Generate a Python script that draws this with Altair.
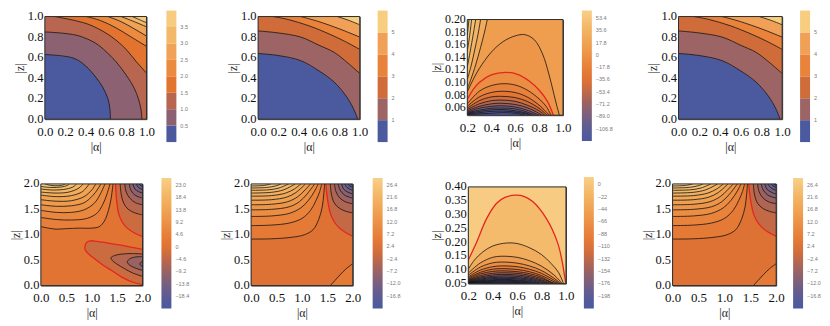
import altair as alt
import pandas as pd

# ---------------- colour gradient (bottom -> top of each bar legend) ----------------
GRAD_T = [0, 0.1, 0.19, 0.29, 0.38, 0.47, 0.57, 0.66, 0.76, 0.86, 1.0]
GRAD_C = ['#4a5aa0', '#5a5c94', '#786080', '#9a6262', '#c06848', '#e07232',
          '#e8803a', '#ec9246', '#f0a454', '#f3b564', '#f8d088']

# ---------------- panel 1 (|a| 0..1, |z| 0..1), discrete bands ----------------
P1_THR = [0.5, 1.0, 1.5, 2.0, 2.5, 3.0, 3.5]
P1_COL = ['#4b5a9f', '#8c6172', '#b8664f', '#e2742f', '#eb8b40', '#f0a256', '#f4b86a', '#f7cc80']
A1 = [(0, 0.63), (0.28, 0.595), (0.4, 0.52), (0.5, 0.41), (0.57, 0.31), (0.62, 0.2), (0.64, 0.1), (0.645, 0)]
B1 = [(0, 0.85), (0.2, 0.835), (0.34, 0.81), (0.5, 0.74), (0.6, 0.66), (0.7, 0.56), (0.8, 0.43),
      (0.88, 0.3), (0.92, 0.2), (0.945, 0.1), (0.955, 0)]
C1 = [(0.1, 1.0), (0.3, 0.96), (0.44, 0.92), (0.6, 0.84), (0.7, 0.77), (0.8, 0.68), (0.9, 0.56), (1.0, 0.45)]
D1 = [(0.41, 1.0), (0.55, 0.96), (0.7, 0.89), (0.85, 0.8), (1.0, 0.71)]
E1 = [(0.62, 1.0), (0.75, 0.95), (0.88, 0.88), (1.0, 0.81)]
F1 = [(0.75, 1.0), (0.88, 0.95), (1.0, 0.9)]
G1 = [(0.86, 1.0), (0.93, 0.97), (1.0, 0.94)]

# ---------------- panels 2 and 4, discrete bands ----------------
P2_THR = [1, 2, 3, 4, 5]
P2_COL = ['#4b5a9f', '#9c6464', '#d06c3a', '#e9823a', '#f0a157', '#f7cd80']
A2 = [(0, 0.64), (0.2, 0.62), (0.42, 0.57), (0.6, 0.47), (0.75, 0.36), (0.87, 0.22), (0.94, 0.1), (0.98, 0)]
B2 = [(0, 0.86), (0.2, 0.84), (0.42, 0.8), (0.6, 0.72), (0.75, 0.65), (0.88, 0.55), (1.0, 0.445)]
C2 = [(0.15, 1.0), (0.3, 0.97), (0.5, 0.91), (0.7, 0.83), (0.85, 0.76), (1.0, 0.68)]
D2 = [(0.42, 1.0), (0.6, 0.95), (0.8, 0.88), (1.0, 0.8)]
E2 = [(0.78, 1.0), (0.9, 0.96), (1.0, 0.92)]

# ---------------- panel 3 (|a| 0.2..1, |z| 0.048..0.2) ----------------
L3_1 = [(0.2, 0.09), (0.23, 0.105), (0.27, 0.128), (0.31, 0.155), (0.34, 0.177), (0.367, 0.2)]
L3_2 = [(0.2, 0.105), (0.23, 0.125), (0.26, 0.15), (0.29, 0.177), (0.311, 0.2)]
L3_3 = [(0.2, 0.125), (0.225, 0.15), (0.25, 0.177), (0.27, 0.2)]
L3_4 = [(0.2, 0.15), (0.22, 0.175), (0.236, 0.2)]
L3_5 = [(0.2, 0.175), (0.214, 0.2)]
BIG3 = [(0.2, 0.085), (0.25, 0.105), (0.3, 0.122), (0.4, 0.148), (0.5, 0.165), (0.6, 0.174), (0.68, 0.176),
        (0.76, 0.168), (0.83, 0.145), (0.88, 0.115), (0.92, 0.085), (0.95, 0.062), (0.97, 0.048)]
RED3 = [(0.2, 0.073), (0.25, 0.089), (0.3, 0.1), (0.4, 0.112), (0.52, 0.116), (0.62, 0.113), (0.72, 0.102),
        (0.8, 0.088), (0.87, 0.07), (0.92, 0.048)]
K3_1 = [(0.2, 0.066), (0.3, 0.086), (0.4, 0.095), (0.5, 0.098), (0.6, 0.096), (0.7, 0.088), (0.8, 0.074), (0.86, 0.062), (0.9, 0.048)]
K3_2 = [(0.2, 0.062), (0.3, 0.077), (0.4, 0.084), (0.48, 0.086), (0.6, 0.084), (0.7, 0.077), (0.8, 0.064), (0.886, 0.048)]
K3_3 = [(0.2, 0.059), (0.3, 0.071), (0.4, 0.077), (0.48, 0.078), (0.6, 0.076), (0.7, 0.07), (0.8, 0.059), (0.867, 0.048)]
K3_4 = [(0.2, 0.057), (0.3, 0.066), (0.4, 0.071), (0.48, 0.072), (0.6, 0.07), (0.7, 0.064), (0.8, 0.055), (0.847, 0.048)]
K3_5 = [(0.2, 0.055), (0.3, 0.062), (0.4, 0.066), (0.48, 0.067), (0.6, 0.065), (0.7, 0.06), (0.78, 0.053), (0.825, 0.048)]
K3_6 = [(0.2, 0.053), (0.3, 0.059), (0.4, 0.062), (0.48, 0.063), (0.6, 0.061), (0.7, 0.056), (0.8, 0.048)]
K3_7 = [(0.2, 0.052), (0.3, 0.056), (0.4, 0.059), (0.48, 0.0595), (0.6, 0.058), (0.7, 0.053), (0.77, 0.048)]
K3_8 = [(0.2, 0.051), (0.3, 0.054), (0.4, 0.0565), (0.5, 0.057), (0.6, 0.055), (0.7, 0.051), (0.74, 0.048)]
K3_9 = [(0.2, 0.05), (0.3, 0.052), (0.4, 0.054), (0.5, 0.0545), (0.6, 0.053), (0.7, 0.0495), (0.72, 0.048)]
K3_10 = [(0.2, 0.049), (0.35, 0.0505), (0.5, 0.052), (0.6, 0.051), (0.68, 0.048)]

# ---------------- panel 5 (|a| 0..2, |z| 0..2) ----------------
T5 = [
    [(0, 1.16), (0.15, 1.13), (0.3, 1.11), (0.5, 1.12), (0.75, 1.13), (1.0, 1.13), (1.15, 1.16), (1.25, 1.27), (1.33, 1.48), (1.38, 1.7), (1.42, 2.0)],
    [(0, 1.34), (0.3, 1.3), (0.6, 1.29), (0.9, 1.32), (1.1, 1.42), (1.22, 1.6), (1.3, 1.8), (1.36, 2.0)],
    [(0, 1.48), (0.3, 1.44), (0.6, 1.44), (0.85, 1.49), (1.05, 1.62), (1.17, 1.8), (1.26, 2.0)],
    [(0, 1.59), (0.3, 1.56), (0.6, 1.57), (0.85, 1.63), (1.02, 1.77), (1.12, 1.9), (1.18, 2.0)],
    [(0, 1.69), (0.3, 1.66), (0.6, 1.67), (0.85, 1.75), (1.0, 1.88), (1.08, 2.0)],
    [(0, 1.78), (0.3, 1.75), (0.6, 1.77), (0.82, 1.85), (0.95, 2.0)],
    [(0, 1.84), (0.3, 1.82), (0.55, 1.84), (0.75, 1.92), (0.83, 2.0)],
    [(0, 1.9), (0.25, 1.88), (0.5, 1.9), (0.65, 1.95), (0.7, 2.0)],
    [(0, 1.95), (0.2, 1.93), (0.4, 1.94), (0.52, 1.97), (0.56, 2.0)],
    [(0.08, 2.0), (0.2, 1.97), (0.35, 1.965), (0.45, 1.985), (0.48, 2.0)],
]
T5_V = [4, 6.5, 9, 11.5, 14, 16.5, 19, 21.5, 23.5, 25]
R5 = [(1.47, 2.0), (1.48, 1.8), (1.5, 1.6), (1.53, 1.42), (1.6, 1.25), (1.7, 1.13), (1.85, 1.03), (2.0, 0.97)]
Q5 = [
    [(1.56, 2.0), (1.58, 1.8), (1.63, 1.62), (1.72, 1.5), (1.85, 1.43), (2.0, 1.39)],
    [(1.65, 2.0), (1.68, 1.84), (1.75, 1.72), (1.86, 1.63), (2.0, 1.59)],
    [(1.74, 2.0), (1.77, 1.88), (1.85, 1.78), (2.0, 1.72)],
    [(1.81, 2.0), (1.85, 1.9), (1.92, 1.85), (2.0, 1.82)],
    [(1.88, 2.0), (1.92, 1.93), (2.0, 1.89)],
    [(1.93, 2.0), (1.96, 1.97), (2.0, 1.95)],
]
Q5_V = [-5.5, -8, -10.5, -13, -16, -19]
LOOP5 = [(2.0, 0.71), (1.8, 0.75), (1.55, 0.8), (1.3, 0.84), (1.1, 0.87), (0.97, 0.88), (0.9, 0.85), (0.87, 0.78),
         (0.87, 0.71), (0.92, 0.64), (1.0, 0.57), (1.2, 0.42), (1.4, 0.29), (1.6, 0.16), (1.8, 0.07), (2.0, 0.02)]
M5 = [
    [(2.0, 0.62), (1.8, 0.63), (1.6, 0.62), (1.45, 0.59), (1.38, 0.55), (1.4, 0.5), (1.5, 0.42), (1.65, 0.33), (1.8, 0.25), (2.0, 0.18)],
    [(2.0, 0.57), (1.85, 0.56), (1.74, 0.52), (1.7, 0.46), (1.75, 0.4), (1.87, 0.34), (2.0, 0.3)],
    [(2.0, 0.48), (1.96, 0.45), (1.95, 0.42), (1.97, 0.39), (2.0, 0.37)],
]
M5_V = [-6, -9, -12]

# ---------------- panels 6 and 8 ----------------
S6 = [
    [(0, 0.915), (0.4, 0.92), (0.8, 0.95), (1.05, 1.0), (1.22, 1.1), (1.33, 1.3), (1.4, 1.55), (1.43, 1.8), (1.446, 2.0)],
    [(0, 1.18), (0.4, 1.19), (0.75, 1.23), (1.0, 1.32), (1.17, 1.48), (1.28, 1.68), (1.35, 1.85), (1.39, 2.0)],
    [(0, 1.36), (0.4, 1.37), (0.75, 1.42), (0.98, 1.53), (1.13, 1.68), (1.25, 1.86), (1.32, 2.0)],
    [(0, 1.49), (0.4, 1.5), (0.75, 1.55), (0.95, 1.65), (1.1, 1.8), (1.25, 2.0)],
    [(0, 1.59), (0.4, 1.6), (0.72, 1.65), (0.92, 1.75), (1.06, 1.88), (1.17, 2.0)],
    [(0, 1.68), (0.4, 1.69), (0.7, 1.74), (0.88, 1.83), (1.07, 2.0)],
    [(0, 1.76), (0.4, 1.77), (0.68, 1.82), (0.85, 1.9), (0.98, 2.0)],
    [(0, 1.82), (0.4, 1.835), (0.63, 1.88), (0.78, 1.95), (0.87, 2.0)],
    [(0, 1.875), (0.35, 1.885), (0.55, 1.92), (0.74, 2.0)],
    [(0, 1.92), (0.3, 1.93), (0.48, 1.96), (0.59, 2.0)],
    [(0, 1.96), (0.25, 1.97), (0.39, 2.0)],
]
S6_V = [5, 8, 10.5, 13, 15.5, 18, 20.5, 23, 25, 27, 28.5]
R6 = [(1.47, 2.0), (1.49, 1.8), (1.52, 1.6), (1.56, 1.42), (1.62, 1.28), (1.72, 1.15), (1.85, 1.05), (2.0, 0.97)]
Q6 = [
    [(1.56, 2.0), (1.58, 1.8), (1.64, 1.62), (1.74, 1.52), (1.87, 1.46), (2.0, 1.43)],
    [(1.64, 2.0), (1.67, 1.85), (1.74, 1.73), (1.85, 1.65), (2.0, 1.61)],
    [(1.71, 2.0), (1.75, 1.88), (1.84, 1.78), (2.0, 1.72)],
    [(1.78, 2.0), (1.82, 1.9), (1.9, 1.84), (2.0, 1.8)],
    [(1.84, 2.0), (1.89, 1.93), (2.0, 1.87)],
    [(1.9, 2.0), (1.94, 1.96), (2.0, 1.93)],
    [(1.95, 2.0), (2.0, 1.97)],
]
Q6_V = [-4.5, -7, -9.5, -12, -14.5, -17, -19.5]
BR6 = [(1.56, 0.0), (1.65, 0.1), (1.75, 0.21), (1.87, 0.33), (2.0, 0.43)]

# ---------------- panel 7 (|a| 0.2..1, |z| 0.05..0.4) ----------------
RED7 = [(0.2, 0.135), (0.268, 0.2), (0.35, 0.285), (0.43, 0.34), (0.5, 0.362), (0.59, 0.37), (0.66, 0.365),
        (0.73, 0.346), (0.84, 0.285), (0.93, 0.2), (0.97, 0.128), (0.99, 0.074), (1.0, 0.05)]
K7 = [
    [(0.2, 0.102), (0.25, 0.135), (0.32, 0.165), (0.4, 0.186), (0.515, 0.197), (0.6, 0.195), (0.7, 0.18), (0.8, 0.155), (0.88, 0.122), (0.94, 0.09), (0.98, 0.05)],
    [(0.2, 0.088), (0.3, 0.125), (0.4, 0.145), (0.47, 0.149), (0.6, 0.145), (0.7, 0.133), (0.8, 0.113), (0.9, 0.082), (0.97, 0.05)],
    [(0.2, 0.08), (0.3, 0.11), (0.4, 0.125), (0.47, 0.128), (0.6, 0.124), (0.7, 0.114), (0.8, 0.097), (0.9, 0.07), (0.96, 0.05)],
    [(0.2, 0.074), (0.3, 0.099), (0.4, 0.111), (0.47, 0.114), (0.6, 0.111), (0.7, 0.102), (0.8, 0.087), (0.9, 0.063), (0.95, 0.05)],
    [(0.2, 0.07), (0.3, 0.091), (0.4, 0.102), (0.47, 0.104), (0.6, 0.101), (0.7, 0.093), (0.8, 0.079), (0.9, 0.057), (0.94, 0.05)],
    [(0.2, 0.066), (0.3, 0.085), (0.4, 0.094), (0.47, 0.096), (0.6, 0.093), (0.7, 0.086), (0.8, 0.073), (0.88, 0.055), (0.92, 0.05)],
    [(0.2, 0.063), (0.3, 0.079), (0.4, 0.087), (0.47, 0.089), (0.6, 0.087), (0.7, 0.08), (0.8, 0.068), (0.9, 0.05)],
    [(0.2, 0.061), (0.3, 0.074), (0.4, 0.081), (0.47, 0.083), (0.6, 0.081), (0.7, 0.075), (0.8, 0.063), (0.88, 0.05)],
    [(0.2, 0.059), (0.3, 0.07), (0.4, 0.076), (0.5, 0.078), (0.6, 0.076), (0.7, 0.07), (0.8, 0.059), (0.86, 0.05)],
    [(0.2, 0.057), (0.3, 0.066), (0.4, 0.072), (0.5, 0.073), (0.6, 0.071), (0.7, 0.066), (0.8, 0.055), (0.84, 0.05)],
    [(0.2, 0.055), (0.3, 0.063), (0.4, 0.068), (0.5, 0.069), (0.6, 0.067), (0.7, 0.062), (0.8, 0.051), (0.81, 0.05)],
    [(0.2, 0.054), (0.3, 0.06), (0.4, 0.064), (0.5, 0.065), (0.6, 0.063), (0.7, 0.058), (0.78, 0.05)],
    [(0.2, 0.053), (0.3, 0.058), (0.4, 0.061), (0.5, 0.062), (0.6, 0.06), (0.7, 0.055), (0.75, 0.05)],
    [(0.2, 0.052), (0.3, 0.056), (0.4, 0.058), (0.5, 0.059), (0.6, 0.057), (0.7, 0.052), (0.72, 0.05)],
    [(0.2, 0.051), (0.35, 0.054), (0.5, 0.056), (0.6, 0.054), (0.69, 0.05)],
    [(0.2, 0.0505), (0.35, 0.052), (0.5, 0.053), (0.6, 0.052), (0.66, 0.05)],
]
K7_V = [-32, -52, -72, -92, -112, -130, -146, -160, -172, -182, -192, -200, -206, -212, -216, -219]

# ---------------- axis ticks and legend labels ----------------
TICKS_01 = [0, 0.2, 0.4, 0.6, 0.8, 1.0]
TICKS_02 = [0, 0.5, 1.0, 1.5, 2.0]
TICKS_A = [0.2, 0.4, 0.6, 0.8, 1.0]
TICKS_Z3 = [0.06, 0.08, 0.10, 0.12, 0.14, 0.16, 0.18, 0.20]
TICKS_Z7 = [0.05, 0.10, 0.15, 0.20, 0.25, 0.30, 0.35, 0.40]
LAB3 = [53.4, 35.6, 17.8, 0, -17.8, -35.6, -53.4, -71.2, -89.0, -106.8]
LAB5 = [23.0, 18.4, 13.8, 9.2, 4.6, 0, -4.6, -9.2, -13.8, -18.4]
LAB6 = [26.4, 21.6, 16.8, 12.0, 7.2, 2.4, -2.4, -7.2, -12.0, -16.8]
LAB7 = [0, -22, -44, -66, -88, -110, -132, -154, -176, -198]
RANGE3 = (-124.6, 64.0)
RANGE5 = (-23.1, 25.7)
RANGE6 = (-21.7, 29.0)
RANGE7 = (-220.6, 13.0)


def cont_scale(lo, hi):
    return alt.Scale(domain=[lo + t * (hi - lo) for t in GRAD_T], range=GRAD_C, interpolate='rgb')


def thr_scale(thr, cols):
    return alt.Scale(type='threshold', domain=thr, range=cols)


def legend(lx, ly, length, values=None, fmt=None, expr=None, gradient_type=False):
    kw = dict(orient='none', legendX=lx, legendY=ly, direction='vertical', gradientLength=length,
              gradientThickness=10, title=None, labelFontSize=5.5, labelColor='#7a7a7a',
              labelFont='Liberation Sans', labelOffset=4, labelOverlap=False, padding=0,
              gradientStrokeWidth=0)
    if gradient_type:
        kw['type'] = 'gradient'
    if values is not None:
        kw['values'] = values
    if fmt is not None:
        kw['format'] = fmt
    if expr is not None:
        kw['labelExpr'] = expr
    return alt.Legend(**kw)


ZERO_EXPR = "datum.value == 0 ? '0' : format(datum.value, '.1f')"


def pts_df(pts, extra=None):
    xs = [p[0] for p in pts]
    ys = [p[1] for p in pts]
    d = {'x': xs, 'y': ys, 'i': list(range(len(pts)))}
    if extra:
        d.update({k: [v] * len(pts) for k, v in extra.items()})
    return pd.DataFrame(d)


def panel(xd, yd, xt, yt, xf, yf, w, h, fscale, leg, base_v, regions, black, red, ylab_size=12.5):
    xs = alt.Scale(domain=list(xd), nice=False, zero=False)
    ys = alt.Scale(domain=list(yd), nice=False, zero=False)
    xax = alt.Axis(values=xt, format=xf, title='|α|')
    yax = alt.Axis(values=yt, format=yf, title='|z|', labelFontSize=ylab_size)
    X = alt.X('x:Q', scale=xs, axis=xax)
    Y = alt.Y('y:Q', scale=ys, axis=yax)
    F = alt.Fill('v:Q', scale=fscale, legend=leg)
    corners = [(xd[0], yd[0]), (xd[1], yd[0]), (xd[1], yd[1]), (xd[0], yd[1])]
    layers = [alt.Chart(pts_df(corners, {'v': base_v})).mark_line(strokeWidth=0, clip=True)
              .encode(x=X, y=Y, order='i:Q', fill=F)]
    for pts, v in regions:
        layers.append(alt.Chart(pts_df(pts, {'v': v})).mark_line(strokeWidth=0, clip=True)
                      .encode(x=X, y=Y, order='i:Q', fill=F))
    if black:
        df = pd.concat([pts_df(c, {'k': n}) for n, c in enumerate(black)])
        layers.append(alt.Chart(df).mark_line(color='#141414', strokeWidth=0.8, clip=True,
                                              interpolate='catmull-rom')
                      .encode(x=X, y=Y, detail='k:N', order='i:Q'))
    if red:
        df = pd.concat([pts_df(c, {'k': n}) for n, c in enumerate(red)])
        layers.append(alt.Chart(df).mark_line(color='#e3261f', strokeWidth=1.3, clip=True,
                                              interpolate='catmull-rom')
                      .encode(x=X, y=Y, detail='k:N', order='i:Q'))
    # plot frame along the scale domain
    frame = pd.DataFrame({'x': [xd[0]], 'x2': [xd[1]], 'y': [yd[0]], 'y2': [yd[1]]})
    layers.append(alt.Chart(frame).mark_rect(fill='transparent', stroke='#2e2e2e', strokeWidth=1)
                  .encode(x=X, x2='x2:Q', y=Y, y2='y2:Q'))
    return alt.layer(*layers).properties(width=w, height=h)


def spacer(w, h=10):
    return alt.Chart(pd.DataFrame({'s': [0]})).mark_point(opacity=0).encode(
        x=alt.X('s:Q', axis=None), y=alt.Y('s:Q', axis=None)
    ).properties(width=w, height=h, view=alt.ViewBackground(stroke='transparent'))


# ---- panel 1
p1 = panel((0, 1), (0, 1), TICKS_01, TICKS_01, '.1f', '.1f', 102, 103,
           thr_scale(P1_THR, P1_COL), legend(122, -6, 132, fmt='.1f', gradient_type=True), 3.75,
           [(G1 + [(1, 0), (0, 0), (0, 1)], 3.25), (F1 + [(1, 0), (0, 0), (0, 1)], 2.75),
            (E1 + [(1, 0), (0, 0), (0, 1)], 2.25), (D1 + [(1, 0), (0, 0), (0, 1)], 1.75),
            (C1 + [(1, 0), (0, 0), (0, 1)], 1.25), (B1 + [(0, 0)], 0.75), (A1 + [(0, 0)], 0.25)],
           [A1, B1, C1, D1, E1, F1, G1], [])


def panel2(lx, w):
    return panel((0, 1), (0, 1), TICKS_01, TICKS_01, '.1f', '.1f', w, 103,
                 thr_scale(P2_THR, P2_COL), legend(lx, -6, 132, fmt='d', gradient_type=True), 5.5,
                 [(E2 + [(1, 0), (0, 0), (0, 1)], 4.5), (D2 + [(1, 0), (0, 0), (0, 1)], 3.5),
                  (C2 + [(1, 0), (0, 0), (0, 1)], 2.5), (B2 + [(1, 0), (0, 0)], 1.5), (A2 + [(0, 0)], 0.5)],
                 [A2, B2, C2, D2, E2], [])


p2 = panel2(120, 102)
p4 = panel2(122, 104)

# ---- panel 3
K3 = [K3_1, K3_2, K3_3, K3_4, K3_5, K3_6, K3_7, K3_8, K3_9, K3_10]
K3_V = [-16, -30, -44, -58, -72, -86, -98, -108, -116, -122]
reg3 = [(L3_1 + [(0.2, 0.2)], 27), (L3_2 + [(0.2, 0.2)], 38), (L3_3 + [(0.2, 0.2)], 47),
        (L3_4 + [(0.2, 0.2)], 55), (L3_5 + [(0.2, 0.2)], 61),
        (BIG3 + [(0.2, 0.048)], 4), (RED3 + [(0.2, 0.048)], -4)]
reg3 += [(k + [(0.2, 0.048)], v) for k, v in zip(K3, K3_V)]
p3 = panel((0.2, 1.0), (0.048, 0.2), TICKS_A, TICKS_Z3, '.1f', '.2f', 96, 96,
           cont_scale(*RANGE3), legend(115, -9, 131, values=LAB3, expr=ZERO_EXPR), 12,
           reg3, [L3_1, L3_2, L3_3, L3_4, L3_5, BIG3] + K3, [RED3], ylab_size=12)

# ---- panel 5
reg5 = [(t + [(0, 2)], v) for t, v in zip(T5, T5_V)]
reg5 += [(R5 + [(2, 2)], -3)] + [(q + [(2, 2)], v) for q, v in zip(Q5, Q5_V)]
reg5 += [(LOOP5, -3)] + [(m, v) for m, v in zip(M5, M5_V)]
p5 = panel((0, 2), (0, 2), TICKS_02, TICKS_02, '.1f', '.1f', 102, 102,
           cont_scale(*RANGE5), legend(121, -6, 131, values=LAB5, expr=ZERO_EXPR), 0.5,
           reg5, T5 + Q5 + M5, [R5, LOOP5])


# ---- panels 6 and 8
def panel6(lx, w):
    reg6 = [(BR6 + [(2, 0)], 5)]
    reg6 += [(s + [(0, 2)], v) for s, v in zip(S6, S6_V)]
    reg6 += [(R6 + [(2, 2)], -2)] + [(q + [(2, 2)], v) for q, v in zip(Q6, Q6_V)]
    return panel((0, 2), (0, 2), TICKS_02, TICKS_02, '.1f', '.1f', w, 102,
                 cont_scale(*RANGE6), legend(lx, -6, 131, values=LAB6, fmt='.1f'), 1.8,
                 reg6, S6 + Q6 + [BR6], [R6])


p6 = panel6(122, 102)
p8 = panel6(121, 104)

# ---- panel 7
reg7 = [(RED7 + [(0.2, 0.05)], -12)] + [(k + [(0.2, 0.05)], v) for k, v in zip(K7, K7_V)]
p7 = panel((0.2, 1.0), (0.05, 0.4), TICKS_A, TICKS_Z7, '.1f', '.2f', 98, 97,
           cont_scale(*RANGE7), legend(116, -10, 132, values=LAB7, fmt='d'), 7,
           reg7, K7, [RED7])

# ---------------- layout ----------------
# with flush bounds a nested concat takes no room, so the following spacer / spacing
# includes that nested block's width or height.
col3 = alt.vconcat(spacer(96, 3), p3, spacing=0, bounds='flush').resolve_scale(fill='independent')
col7 = alt.vconcat(spacer(98, 3), p7, spacing=0, bounds='flush').resolve_scale(fill='independent')
row1 = alt.hconcat(spacer(35), p1, spacer(112), p2, spacer(108), col3, spacer(116 + 96), p4,
                   spacing=0, bounds='flush').resolve_scale(fill='independent')
row2 = alt.hconcat(spacer(31), p5, spacer(109), p6, spacer(116), col7, spacer(107 + 98), p8,
                   spacing=0, bounds='flush').resolve_scale(fill='independent')

chart = alt.vconcat(row1, row2, spacing=168, bounds='flush').resolve_scale(
    fill='independent'
).properties(
    padding=0
).configure_view(
    stroke='#333333', strokeWidth=1
).configure_axis(
    labelFont='Liberation Serif', labelFontSize=13, labelColor='#111111',
    titleFont='Liberation Serif', titleFontSize=12, titleFontWeight='normal', titleColor='#222222',
    ticks=False, tickSize=0, grid=False, domain=False, labelFlush=False, labelOverlap=False
).configure_axisX(
    labelPadding=6, titlePadding=3
).configure_axisY(
    labelPadding=2, titlePadding=1, labelOffset=-1
)

chart.save("out.html", embed_options={"renderer": "svg", "actions": False})
